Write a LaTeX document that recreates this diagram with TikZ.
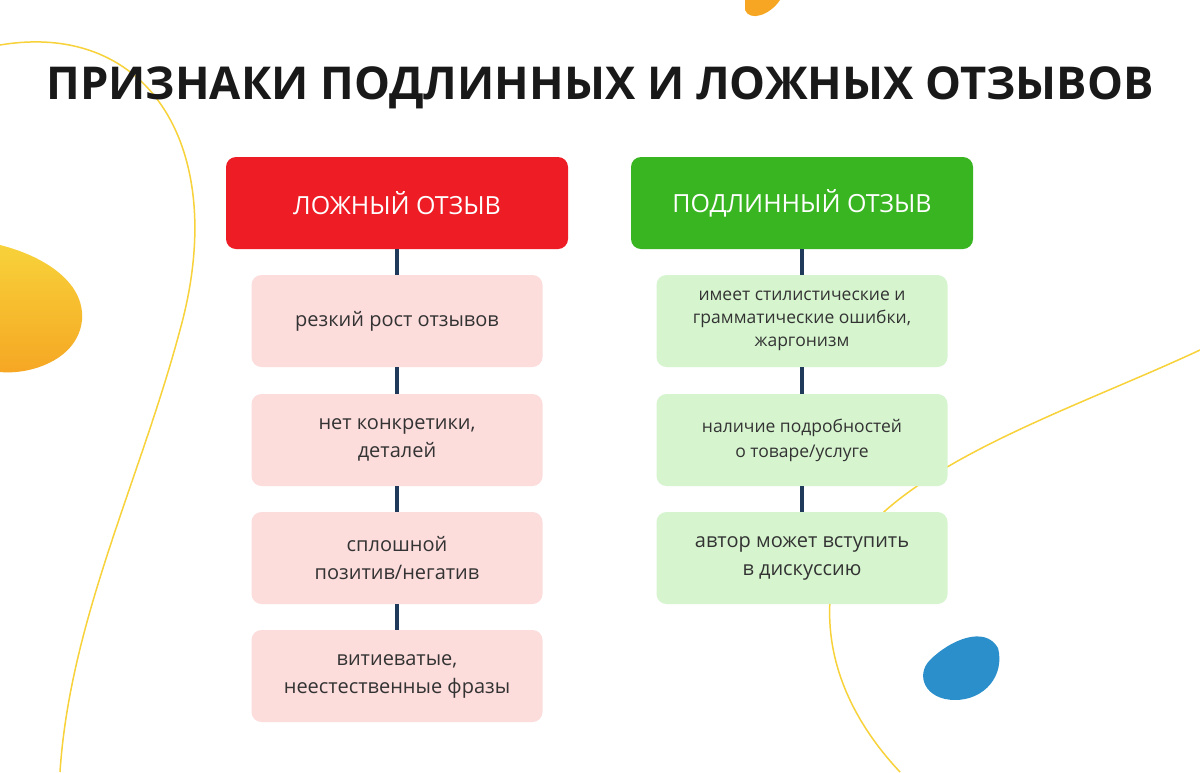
\documentclass[tikz,border=0pt]{standalone}
\usepackage{fontspec}
\usepackage{graphicx}
\setmainfont{Open Sans}
\begin{document}
\begin{tikzpicture}[x=1pt,y=-1pt,
  head/.style={rounded corners=10pt,minimum width=342pt,minimum height=92pt,text=white,font=\fontsize{25}{28}\selectfont},
  item/.style={rounded corners=10pt,minimum width=291pt,minimum height=92pt,text=black!80,align=center,font=\fontsize{20}{28}\selectfont},
  conn/.style={draw=navy,line width=4pt}]
\definecolor{navy}{HTML}{1F3A5A}
\definecolor{redb}{HTML}{EE1C25}
\definecolor{greenb}{HTML}{3AB522}
\definecolor{pinkb}{HTML}{FDDCDC}
\definecolor{lgreen}{HTML}{D6F5CF}
\definecolor{ylw}{HTML}{F7D23A}
\definecolor{orng}{HTML}{F6A623}
\definecolor{blueb}{HTML}{2A8FCB}
\useasboundingbox (0,0) rectangle (1200,772);
\fill[white] (0,0) rectangle (1200,772);
% decorations
\draw[ylw,line width=1.5pt] (0,45) .. controls (150,20) and (230,150) .. (180,330) .. controls (140,480) and (70,620) .. (60,772);
\draw[ylw,line width=1.5pt] (1200,350) .. controls (1050,420) and (850,480) .. (830,600) .. controls (825,680) and (870,740) .. (900,772);
\shade[top color=ylw,bottom color=orng] (0,245) .. controls (40,255) and (85,280) .. (82,320) .. controls (78,360) and (30,375) .. (0,372) -- cycle;
\fill[orng] (745,0) -- (780,0) .. controls (770,15) and (750,22) .. (745,10) -- cycle;
\fill[blueb] (930,660) .. controls (950,640) and (985,625) .. (998,648) .. controls (1005,675) and (985,700) .. (955,700) .. controls (925,700) and (915,675) .. (930,660) -- cycle;
% title
\node[font=\fontsize{39}{44}\selectfont\bfseries,text=black!90] (title) at (600,88) {\resizebox{1107pt}{!}{ПРИЗНАКИ ПОДЛИННЫХ И ЛОЖНЫХ ОТЗЫВОВ}};
\node[head,fill=redb] (h1) at (397,203) {ЛОЖНЫЙ ОТЗЫВ};
\node[head,fill=greenb] (h2) at (802,203) {ПОДЛИННЫЙ ОТЗЫВ};
\node[item,fill=pinkb] (l1) at (397,321) {резкий рост отзывов};
\node[item,fill=pinkb] (l2) at (397,440) {нет конкретики,\\деталей};
\node[item,fill=pinkb] (l3) at (397,558) {сплошной\\позитив/негатив};
\node[item,fill=pinkb] (l4) at (397,676) {витиеватые,\\неестественные фразы};
\node[item,fill=lgreen,font=\fontsize{17.5}{23}\selectfont] (r1) at (802,321) {имеет стилистические и\\грамматические ошибки,\\жаргонизм};
\node[item,fill=lgreen,font=\fontsize{17.5}{25}\selectfont] (r2) at (802,440) {наличие подробностей\\о товаре/услуге};
\node[item,fill=lgreen] (r3) at (802,558) {автор может вступить\\в дискуссию};
\draw[conn] (h1) -- (l1); \draw[conn] (l1) -- (l2); \draw[conn] (l2) -- (l3); \draw[conn] (l3) -- (l4);
\draw[conn] (h2) -- (r1); \draw[conn] (r1) -- (r2); \draw[conn] (r2) -- (r3);
\end{tikzpicture}
\end{document}
